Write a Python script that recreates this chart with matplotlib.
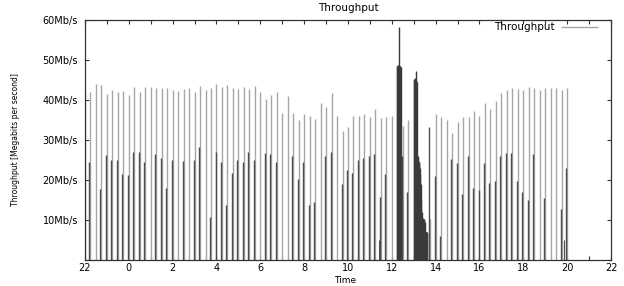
import matplotlib
matplotlib.use('Agg')
import matplotlib.pyplot as plt
import numpy as np

# samples every 15 minutes, from 22:00 the day before to 20:00
hours = np.arange(89) * 0.25 - 2

# tall (light) impulse of each sample, Mb/s
peak = [41.8, 42.1, 44.1, 43.7, 41.5, 42.6, 42.0, 42.2, 41.3, 43.2,
        42.0, 43.3, 43.2, 42.9, 43.1, 43.0, 42.4, 42.3, 42.8, 42.9,
        42.0, 43.5, 42.6, 42.9, 44.1, 43.3, 43.7, 42.9, 42.7, 43.3,
        42.7, 43.4, 42.0, 40.3, 41.2, 42.0, 36.8, 41.0, 36.8, 35.1,
        36.4, 36.0, 35.3, 39.3, 38.3, 41.7, 36.0, 32.2, 33.3, 36.1,
        36.1, 36.6, 35.7, 37.8, 35.5, 35.8, 36.1, 0.0, 33.4, 35.1,
        0.0, 0.0, 0.0, 10.2, 36.4, 35.7, 35.1, 31.8, 34.5, 35.8,
        35.8, 37.2, 36.0, 39.3, 37.8, 39.7, 41.8, 42.4, 42.9, 42.7,
        42.4, 43.3, 42.9, 42.5, 43.1, 43.1, 43.1, 42.4, 42.9]

# short (dark) impulse of each sample, Mb/s
low = [26.7, 24.4, 0.0, 17.7, 26.3, 24.9, 24.9, 21.5, 21.3, 26.9,
       26.9, 24.4, 0.0, 26.6, 25.6, 18.1, 24.9, 0.0, 24.8, 0.0,
       24.9, 28.2, 0.0, 10.8, 27.0, 24.6, 13.7, 21.8, 24.9, 24.6,
       26.9, 24.9, 0.0, 26.7, 26.5, 24.6, 0.0, 0.0, 26.1, 20.3,
       24.4, 13.7, 14.5, 0.0, 26.1, 26.9, 0.0, 19.0, 22.5, 21.8,
       24.9, 25.6, 26.1, 26.6, 15.8, 21.5, 0.0, 0.0, 26.0, 17.0,
       0.0, 0.0, 0.0, 33.3, 21.0, 6.1, 0.0, 25.3, 24.2, 16.6,
       25.9, 18.1, 17.5, 24.2, 19.2, 19.8, 26.1, 26.7, 26.7, 19.8,
       16.9, 15.0, 26.5, 0.0, 15.5, 0.0, 0.0, 12.7, 22.9]

# dense bursts around 12:15 and 13:00
burst1_t = np.arange(10) * 0.02 + 12.22
burst1_v = [48.4, 48.6, 48.8, 48.6, 48.7, 58.2, 48.6, 48.5, 48.4, 48.2]
burst2_t = np.arange(32) * 0.02 + 13.0
burst2_v = [45.0, 45.2, 45.3, 45.4, 47.3, 45.0, 44.8, 44.5,
            26.0, 25.9, 25.5, 24.6, 24.4,
            24.0, 23.0, 21.5, 19.0, 15.0, 12.0,
            10.5, 10.4, 10.3, 10.3, 10.2, 10.0, 9.5,
            7.2, 7.1, 7.0, 7.0, 6.9, 6.8]

# a few small stray impulses
stray_t = [11.4, 19.85]
stray_v = [5.1, 4.9]

xtick_pos = list(range(-2, 23, 2))
xtick_labels = ['22', '0', '2', '4', '6', '8', '10', '12', '14', '16', '18', '20', '22']
ytick_pos = [0, 10, 20, 30, 40, 50, 60]
ytick_labels = ['', '10Mb/s', '20Mb/s', '30Mb/s', '40Mb/s', '50Mb/s', '60Mb/s']

plt.rcParams['font.family'] = ['DejaVu Sans']

fig = plt.figure(figsize=(6.24, 2.86), dpi=100)
ax = fig.add_axes([85 / 624, 26 / 286, 526 / 624, 240 / 286])

gray = '#a6a6a6'
dark = '#4d4d4d'
ax.vlines(hours, 0, peak, color=gray, lw=1.0, label='Throughput')
ax.vlines(hours - 0.045, 0, low, color=dark, lw=1.0)
ax.vlines(burst1_t, 0, burst1_v, color='#3a3a3a', lw=1.0)
ax.vlines(burst2_t, 0, burst2_v, color='#3a3a3a', lw=1.0)
ax.vlines(stray_t, 0, stray_v, color=dark, lw=0.8)

ax.set_xlim(-2, 22)
ax.set_ylim(0, 60)
ax.set_xticks(xtick_pos)
ax.set_xticklabels(xtick_labels)
ax.set_xticks(range(-2, 23), minor=True)
ax.set_yticks(ytick_pos)
ax.set_yticklabels(ytick_labels)

ax.tick_params(which='both', direction='in', top=True, right=True,
               length=3, width=0.8, color='#333333')
ax.tick_params(axis='x', labelsize=7, pad=2)
ax.tick_params(axis='y', labelsize=7, pad=5)
for s in ax.spines.values():
    s.set_linewidth(0.9)
    s.set_color('#333333')

ax.set_xlabel('Time', fontsize=6.5)
ax.xaxis.set_label_coords(0.494, -0.068)
ax.set_ylabel('Throughput [Megabits per second]', fontsize=5.5)
ax.yaxis.set_label_coords(-65 / 526, 0.5)
fig.text(348 / 624, 1 - 8 / 286, 'Throughput', fontsize=7.5, ha='center', va='center')

ax.legend(loc='upper right', bbox_to_anchor=(0.975, 0.99), frameon=False,
          markerfirst=False, fontsize=7.5, handlelength=3.5, handletextpad=0.6,
          borderpad=0, borderaxespad=0)

fig.savefig('out.png', dpi=100)
